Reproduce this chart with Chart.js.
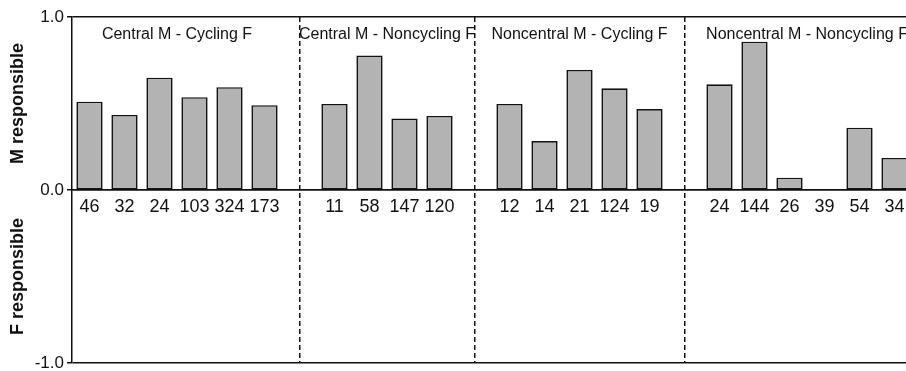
<!DOCTYPE html>
<html>
<head>
<meta charset="utf-8">
<script src="https://cdn.jsdelivr.net/npm/chart.js@4.4.1/dist/chart.umd.min.js"></script>
<style>
  html, body { margin: 0; padding: 0; overflow: hidden; background: #fff; }
  #wrap { width: 920px; height: 380px; }
</style>
</head>
<body>
<div id="wrap"><canvas id="chart" width="920" height="380"></canvas></div>
<script>
// panel titles
const groups = ['Central M - Cycling F', 'Central M - Noncycling F', 'Noncentral M - Cycling F', 'Noncentral M - Noncycling F'];

// sample sizes shown under the bars (tick labels)
const centralCyclingN = ['46', '32', '24', '103', '324', '173'];
const centralNoncyclingN = ['11', '58', '147', '120'];
const noncentralCyclingN = ['12', '14', '21', '124', '19'];
const noncentralNoncyclingN = ['24', '144', '26', '39', '54', '34'];

// proportion M responsible
const centralCyclingM = [0.51, 0.434, 0.649, 0.536, 0.594, 0.49];
const centralNoncyclingM = [0.497, 0.778, 0.414, 0.428];
const noncentralCyclingM = [0.497, 0.283, 0.694, 0.588, 0.468];
const noncentralNoncyclingM = [0.611, 0.857, 0.071, 0, 0.36, 0.185];

const yTicks = [-1, 0, 1];

const FONT = '"Liberation Sans", Arial, Helvetica, sans-serif';

// build category slots, with an empty slot (divider) between groups
const labels = [];
const values = [];
const dividers = [];
const groupRanges = [];
[[centralCyclingN, centralCyclingM], [centralNoncyclingN, centralNoncyclingM],
 [noncentralCyclingN, noncentralCyclingM], [noncentralNoncyclingN, noncentralNoncyclingM]].forEach((g, i) => {
    if (i > 0) {
        dividers.push(labels.length);
        labels.push('');
        values.push(null);
    }
    const start = labels.length;
    g[0].forEach((n, j) => {
        labels.push(n);
        values.push(g[1][j]);
    });
    groupRanges.push([start, labels.length - 1]);
});

const panelText = {
    id: 'panelText',
    afterDraw(chart) {
        const {ctx, scales: {x, y}} = chart;
        ctx.save();
        ctx.fillStyle = '#111';
        ctx.textAlign = 'center';
        ctx.textBaseline = 'middle';
        ctx.font = '16px ' + FONT;
        groupRanges.forEach((r, i) => {
            const cx = (x.getPixelForValue(r[0]) + x.getPixelForValue(r[1])) / 2;
            ctx.fillText(groups[i], cx, y.top + 18);
        });
        ctx.font = 'bold 18px ' + FONT;
        [['M responsible', 0.5], ['F responsible', -0.5]].forEach(([t, v]) => {
            ctx.save();
            ctx.translate(18, y.getPixelForValue(v));
            ctx.rotate(-Math.PI / 2);
            ctx.fillText(t, 0, 0);
            ctx.restore();
        });
        ctx.restore();
    }
};

const ctx = document.getElementById('chart').getContext('2d');
new Chart(ctx, {
    type: 'bar',
    data: {
        labels: labels,
        datasets: [{
            data: values,
            backgroundColor: '#b3b3b3',
            borderColor: '#111',
            borderWidth: 1.6,
            borderSkipped: false,
            barPercentage: 0.75,
            categoryPercentage: 1
        }]
    },
    options: {
        responsive: false,
        animation: false,
        layout: { padding: { left: 0, right: 8, top: 17, bottom: 17 } },
        plugins: {
            legend: { display: false },
            tooltip: { enabled: false }
        },
        scales: {
            x: {
                type: 'category',
                position: { y: 0 },
                offset: true,
                grid: {
                    offset: false,
                    drawTicks: false,
                    lineWidth: 1.5,
                    color: c => dividers.includes(c.index) ? '#111' : 'rgba(0,0,0,0)'
                },
                border: { display: true, color: '#111', width: 1.5, dash: [5, 3] },
                ticks: {
                    autoSkip: false,
                    maxRotation: 0,
                    padding: 6,
                    color: '#111',
                    font: { family: FONT, size: 18 }
                }
            },
            y: {
                min: -1,
                max: 1,
                afterBuildTicks: s => { s.ticks = yTicks.map(v => ({ value: v })); },
                afterFit: s => { s.width = 72; },
                grid: { color: '#111', lineWidth: 1.5, tickLength: 5 },
                border: { display: true, color: '#111', width: 1.5 },
                ticks: {
                    padding: 3,
                    color: '#111',
                    font: { family: FONT, size: 17 },
                    callback: v => v.toFixed(1)
                }
            }
        }
    },
    plugins: [panelText]
});
</script>
</body>
</html>
